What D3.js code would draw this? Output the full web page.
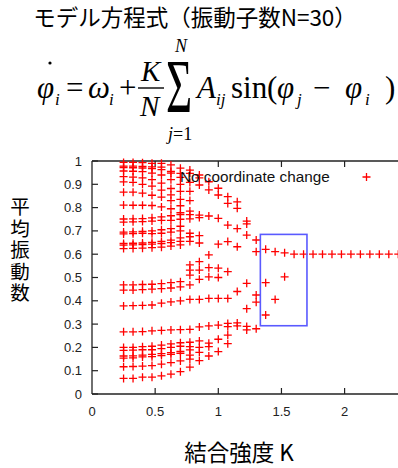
<!DOCTYPE html>
<html>
<head>
<meta charset="utf-8">
<script src="https://cdn.jsdelivr.net/npm/d3@7"></script>
<style>
body { margin: 0; background: #fff; }
svg { display: block; }
</style>
</head>
<body>
<svg id="chart" width="398" height="468"></svg>
<script>
// coupling strength K for each column of points
var kValues = [0.25, 0.325, 0.4, 0.475, 0.55, 0.625, 0.7, 0.775, 0.85, 0.925,
               1.0, 1.075, 1.15, 1.225, 1.3, 1.375, 1.45, 1.525, 1.6, 1.675,
               1.75, 1.825, 1.9, 1.975, 2.05, 2.125, 2.2, 2.275, 2.35, 2.425];

// mean frequency of the oscillators, one list per K (overlapping ones left out)
var freqByK = [
    [0.994,0.978,0.972,0.957,0.933,0.91,0.866,0.811,0.751,0.738,0.695,0.687,0.646,0.639,0.624,0.468,0.446,0.378,0.267,0.2,0.187,0.163,0.154,0.117,0.067],
    [0.994,0.978,0.971,0.956,0.931,0.908,0.866,0.81,0.752,0.739,0.696,0.688,0.647,0.64,0.625,0.468,0.446,0.379,0.267,0.2,0.188,0.164,0.155,0.118,0.067],
    [0.993,0.977,0.97,0.954,0.928,0.9,0.862,0.81,0.753,0.74,0.698,0.69,0.648,0.641,0.626,0.47,0.448,0.38,0.268,0.203,0.19,0.167,0.159,0.12,0.072],
    [0.99,0.975,0.967,0.948,0.92,0.892,0.853,0.809,0.756,0.742,0.7,0.688,0.651,0.643,0.628,0.471,0.45,0.382,0.271,0.205,0.19,0.17,0.16,0.122,0.072],
    [0.99,0.974,0.963,0.94,0.905,0.875,0.845,0.803,0.76,0.745,0.705,0.69,0.655,0.646,0.63,0.474,0.452,0.39,0.273,0.21,0.195,0.173,0.165,0.128,0.078],
    [0.983,0.955,0.948,0.92,0.882,0.855,0.83,0.795,0.765,0.745,0.71,0.695,0.66,0.65,0.635,0.478,0.455,0.395,0.275,0.215,0.2,0.178,0.17,0.135,0.085],
    [0.969,0.947,0.93,0.9,0.87,0.835,0.808,0.778,0.77,0.75,0.72,0.7,0.67,0.655,0.64,0.482,0.46,0.4,0.276,0.22,0.205,0.183,0.175,0.142,0.096],
    [0.961,0.947,0.908,0.87,0.83,0.785,0.77,0.752,0.69,0.675,0.655,0.554,0.532,0.51,0.468,0.406,0.277,0.222,0.203,0.189,0.167,0.15,0.115],
    [0.94,0.928,0.897,0.768,0.757,0.68,0.648,0.568,0.532,0.492,0.406,0.288,0.228,0.2,0.179,0.143],
    [0.911,0.876,0.764,0.597,0.542,0.503,0.41,0.292,0.218,0.203,0.163],
    [0.883,0.854,0.754,0.643,0.54,0.5,0.41,0.296,0.235,0.182],
    [0.847,0.818,0.725,0.654,0.525,0.41,0.303,0.289,0.253,0.216],
    [0.825,0.797,0.71,0.632,0.44,0.305,0.292],
    [0.742,0.73,0.682,0.475,0.366,0.29,0.275],
    [0.661,0.611,0.425,0.394,0.28],
    [0.621,0.478,0.339],
    [0.611,0.406],
    [0.606,0.503],
    [0.6], [0.6], [0.6], [0.6], [0.6], [0.6], [0.6], [0.6], [0.6], [0.6], [0.6], [0.6]
];

var xTickValues = [0, 0.5, 1, 1.5, 2];
var yTickValues = [0, 0.1, 0.2, 0.3, 0.4, 0.5, 0.6, 0.7, 0.8, 0.9, 1];

// highlighted region (K range, frequency range)
var boxK = [1.333, 1.702];
var boxFreq = [0.293, 0.685];

var legendLabel = "No coordinate change";
var titleText = "モデル方程式（振動子数N=30）";
var xTitleText = "結合強度 K";
var yTitleChars = ["平", "均", "振", "動", "数"];

function draw() {
    var svg = d3.select("#chart");
    var plotLeft = 92, plotTop = 161, plotBottom = 394;

    var x = d3.scaleLinear().domain([0, 2.43]).range([plotLeft, plotLeft + 2.43 * 126.3]);
    var y = d3.scaleLinear().domain([0, 1]).range([plotBottom, plotTop]);

    var jp = "'Noto Sans CJK JP', sans-serif";
    var serif = "'Liberation Serif', 'DejaVu Serif', serif";
    var sans = "'Liberation Sans', Arial, sans-serif";

    // title
    svg.append("text")
        .attr("x", 195).attr("y", 26)
        .attr("text-anchor", "middle")
        .style("font-family", jp).style("font-size", "22.5px")
        .text(titleText);

    // formula, placed piece by piece
    var f = svg.append("g").style("font-family", serif).attr("fill", "#000");
    function ft(xp, yp, s, size, italic) {
        return f.append("text").attr("x", xp).attr("y", yp)
            .style("font-size", size + "px")
            .style("font-style", italic ? "italic" : "normal")
            .text(s);
    }
    var base = 98;
    ft(37, base, "φ", 31, true);
    f.append("circle").attr("cx", 50).attr("cy", 63).attr("r", 1.6);
    ft(55, base + 7, "i", 17, true);
    ft(66, base, "=", 31, false);
    ft(88, base, "ω", 31, true);
    ft(109, base + 7, "i", 17, true);
    ft(119, base, "+", 31, false);
    ft(141, 81, "K", 29, true);
    f.append("line").attr("x1", 138).attr("x2", 164).attr("y1", 88).attr("y2", 88)
        .attr("stroke", "#000").attr("stroke-width", 1.4);
    ft(140, 116, "N", 29, true);
    f.append("text").attr("transform", "translate(166,112) scale(1,1.7)")
        .style("font-size", "45px").text("Σ");
    ft(175, 52, "N", 18, true);
    var jt = ft(168, 140, "", 18, false);
    jt.append("tspan").style("font-style", "italic").text("j");
    jt.append("tspan").text("=1");
    ft(197, base, "A", 31, true);
    ft(216, base + 7, "ij", 17, true);
    ft(231, base, "sin", 31, false);
    ft(267, base, "(", 31, false);
    ft(277, base, "φ", 31, true);
    ft(297, base + 7, "j", 17, true);
    ft(313, base, "−", 31, false);
    ft(345, base, "φ", 31, true);
    ft(365, base + 7, "i", 17, true);
    ft(385, base, ")", 31, false);

    // axes frame
    var axisColor = "#222";
    svg.append("line").attr("x1", plotLeft).attr("x2", plotLeft).attr("y1", plotTop).attr("y2", plotBottom)
        .attr("stroke", axisColor).attr("stroke-width", 1.3);
    svg.append("line").attr("x1", plotLeft).attr("x2", 400).attr("y1", plotTop).attr("y2", plotTop)
        .attr("stroke", axisColor).attr("stroke-width", 1.3);
    svg.append("line").attr("x1", plotLeft).attr("x2", 400).attr("y1", plotBottom).attr("y2", plotBottom)
        .attr("stroke", axisColor).attr("stroke-width", 1.3);

    // inward ticks
    svg.selectAll(".ytick").data(yTickValues).enter().append("line")
        .attr("x1", plotLeft).attr("x2", plotLeft + 6)
        .attr("y1", function(d) { return y(d); }).attr("y2", function(d) { return y(d); })
        .attr("stroke", axisColor).attr("stroke-width", 1.2);
    svg.selectAll(".xtickb").data(xTickValues.slice(1)).enter().append("line")
        .attr("x1", function(d) { return x(d); }).attr("x2", function(d) { return x(d); })
        .attr("y1", plotBottom).attr("y2", plotBottom - 6)
        .attr("stroke", axisColor).attr("stroke-width", 1.2);
    svg.selectAll(".xtickt").data(xTickValues.slice(1)).enter().append("line")
        .attr("x1", function(d) { return x(d); }).attr("x2", function(d) { return x(d); })
        .attr("y1", plotTop).attr("y2", plotTop + 6)
        .attr("stroke", axisColor).attr("stroke-width", 1.2);

    // tick labels
    svg.selectAll(".ylab").data(yTickValues).enter().append("text")
        .attr("x", 82).attr("y", function(d) { return y(d) + 4.5; })
        .attr("text-anchor", "end")
        .style("font-family", sans).style("font-size", "13px").attr("fill", "#222")
        .text(function(d) { return String(d); });
    svg.selectAll(".xlab").data(xTickValues).enter().append("text")
        .attr("x", function(d) { return x(d); }).attr("y", 416)
        .attr("text-anchor", "middle")
        .style("font-family", sans).style("font-size", "13px").attr("fill", "#222")
        .text(function(d) { return String(d); });

    // axis titles
    svg.append("text").attr("x", 239).attr("y", 461)
        .attr("text-anchor", "middle")
        .style("font-family", jp).style("font-size", "22.5px")
        .text(xTitleText);
    svg.selectAll(".ytitle").data(yTitleChars).enter().append("text")
        .attr("x", 20).attr("y", function(d, i) { return 214 + i * 21.5; })
        .attr("text-anchor", "middle")
        .style("font-family", jp).style("font-size", "19.5px")
        .text(function(d) { return d; });

    // points
    var points = [];
    kValues.forEach(function(k, i) {
        freqByK[i].forEach(function(v) { points.push({ k: k, v: v }); });
    });
    var plus = "M-4,0H4M0,-4V4";
    svg.append("g").selectAll("path").data(points).enter().append("path")
        .attr("d", plus)
        .attr("transform", function(d) { return "translate(" + x(d.k) + "," + y(d.v) + ")"; })
        .attr("stroke", "#ff0000").attr("stroke-width", 1.3).attr("fill", "none");

    // highlight box
    svg.append("rect")
        .attr("x", x(boxK[0])).attr("y", y(boxFreq[1]))
        .attr("width", x(boxK[1]) - x(boxK[0]))
        .attr("height", y(boxFreq[0]) - y(boxFreq[1]))
        .attr("fill", "none").attr("stroke", "#5a5aff").attr("stroke-width", 1.6);

    // legend
    svg.append("text").attr("x", 180).attr("y", 182)
        .style("font-family", sans).style("font-size", "15.3px").attr("fill", "#111")
        .text(legendLabel);
    svg.append("path").attr("d", plus)
        .attr("transform", "translate(366.5,177)")
        .attr("stroke", "#ff0000").attr("stroke-width", 1.3).attr("fill", "none");
}

draw();
</script>
</body>
</html>
